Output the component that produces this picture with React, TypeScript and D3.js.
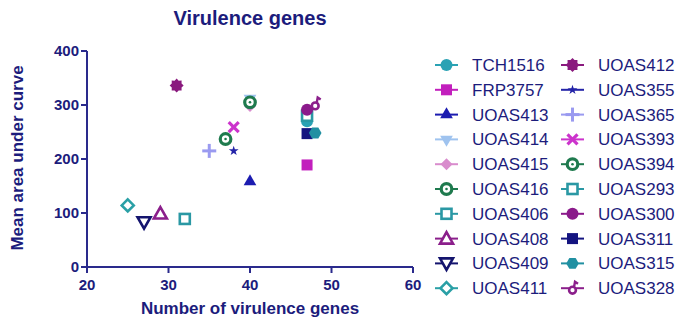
import React from "react";
import * as d3 from "d3";

const seriesNames = [
  "TCH1516", "FRP3757", "UOAS413", "UOAS414", "UOAS415", "UOAS416", "UOAS406", "UOAS408", "UOAS409", "UOAS411",
  "UOAS412", "UOAS355", "UOAS365", "UOAS393", "UOAS394", "UOAS293", "UOAS300", "UOAS311", "UOAS315", "UOAS328",
];
const geneCounts = [47, 47, 40, 40, 40, 40, 32, 29, 27, 25, 31, 38, 35, 38, 37, 47, 47, 47, 48, 48];
const meanAUC = [270, 189, 158, 312, 298, 305, 89, 99, 83, 114, 336, 215, 215, 259, 237, 280, 291, 247, 248, 302];
const seriesColors = [
  "#2aa2b4", "#c21fbd", "#1c1cb0", "#9fc3ef", "#d98ccd", "#1f7a4e", "#2a98a4", "#8b1f8b", "#14146e", "#2aa0a6",
  "#8a1a7e", "#2424a8", "#9a9af0", "#cc33cc", "#1f7a4e", "#2a98a4", "#8b1a8b", "#141480", "#2190a2", "#8b1f8b",
];
const seriesShapes = [
  "circle", "square", "triangle", "triangleDown", "diamond", "ring", "openSquare", "openTriangle", "openTriangleDown", "openDiamond",
  "gear", "star", "plus", "cross", "ring", "openSquare", "circle", "square", "hexagon", "male",
];
const xTicks = [20, 30, 40, 50, 60];
const yTicks = [0, 100, 200, 300, 400];

const NAVY = "#1c1c7c";
const AXIS = "#2a2a8c";
const FONT = "'Liberation Sans', Arial, sans-serif";

function Marker({ shape, color, x, y }: { shape: string; color: string; x: number; y: number }) {
  const t = `translate(${x},${y})`;
  const sym = (type: any, size: number) => d3.symbol().type(type).size(size)() as string;
  switch (shape) {
    case "circle":
      return <circle cx={x} cy={y} r={6} fill={color} />;
    case "square":
      return <rect x={x - 5.5} y={y - 5.5} width={11} height={11} fill={color} />;
    case "triangle":
      return <path transform={t} d={sym(d3.symbolTriangle, 70)} fill={color} />;
    case "triangleDown":
      return <path transform={t + " rotate(180)"} d={sym(d3.symbolTriangle, 70)} fill={color} />;
    case "diamond":
      return <path transform={t} d="M0,-6L6,0L0,6L-6,0Z" fill={color} />;
    case "ring":
      return (
        <g>
          <circle cx={x} cy={y} r={5.3} fill="white" stroke={color} strokeWidth={3.2} />
          <circle cx={x} cy={y} r={1.3} fill={color} />
        </g>
      );
    case "openSquare":
      return <rect x={x - 5} y={y - 5} width={10} height={10} fill="white" stroke={color} strokeWidth={2.6} />;
    case "openTriangle":
      return <path transform={t} d="M0,-6.5L6.5,5L-6.5,5Z" fill="white" stroke={color} strokeWidth={2.6} />;
    case "openTriangleDown":
      return <path transform={t} d="M0,6.5L6.5,-5L-6.5,-5Z" fill="white" stroke={color} strokeWidth={2.6} />;
    case "openDiamond":
      return <path transform={t} d="M0,-6L6,0L0,6L-6,0Z" fill="white" stroke={color} strokeWidth={2.6} />;
    case "gear": {
      const pts: [number, number][] = [];
      for (let i = 0; i < 16; i++) {
        const a = (i * Math.PI) / 8;
        const r = i % 2 === 0 ? 7 : 5.3;
        pts.push([Math.cos(a) * r, Math.sin(a) * r]);
      }
      return <path transform={t} d={d3.line()(pts) + "Z"} fill={color} />;
    }
    case "star":
      return <path transform={t} d={sym(d3.symbolStar, 30)} fill={color} />;
    case "plus":
      return (
        <g transform={t} stroke={color} strokeWidth={3}>
          <line x1={-7} y1={0} x2={7} y2={0} />
          <line x1={0} y1={-7} x2={0} y2={7} />
        </g>
      );
    case "cross":
      return (
        <g transform={t} stroke={color} strokeWidth={3.2}>
          <line x1={-5} y1={-5} x2={5} y2={5} />
          <line x1={-5} y1={5} x2={5} y2={-5} />
        </g>
      );
    case "hexagon": {
      const pts: [number, number][] = [];
      for (let i = 0; i < 6; i++) {
        const a = (i * Math.PI) / 3;
        pts.push([Math.cos(a) * 6.3, Math.sin(a) * 6.3]);
      }
      return <path transform={t} d={d3.line()(pts) + "Z"} fill={color} />;
    }
    case "male":
      return (
        <g transform={t}>
          <circle cx={0} cy={2} r={3.4} fill="white" stroke={color} strokeWidth={2.6} />
          <path d="M1.5,-1L2.5,-6.5L5.5,-4.5" fill="none" stroke={color} strokeWidth={2.4} />
        </g>
      );
    default:
      return null;
  }
}

export default function App() {
  const width = 690;
  const height = 325;
  const x = d3.scaleLinear().domain([20, 60]).range([87, 413]);
  const y = d3.scaleLinear().domain([0, 400]).range([267, 51]);

  const legendRow = (i: number) => 65 + (i % 10) * 24.8;
  const legendX = (i: number) => (i < 10 ? 435 : 561);

  return (
    <svg width={width} height={height} style={{ position: "absolute", left: 0, top: 0 }} fontFamily={FONT}>
      <rect width={width} height={height} fill="white" />
      <text x={250} y={25} textAnchor="middle" fontSize={20} fontWeight="bold" fill={NAVY}>
        Virulence genes
      </text>

      {/* Y axis */}
      <line x1={x(20)} y1={y(0)} x2={x(20)} y2={y(400)} stroke={AXIS} strokeWidth={2} />
      {yTicks.map((v) => (
        <g key={"yt" + v}>
          <line x1={x(20) - 6} y1={y(v)} x2={x(20)} y2={y(v)} stroke={AXIS} strokeWidth={2} />
          <text x={x(20) - 8} y={y(v) + 5} textAnchor="end" fontSize={15} fontWeight="bold" fill={NAVY}>
            {v}
          </text>
        </g>
      ))}
      {/* X axis */}
      <line x1={x(20)} y1={y(0)} x2={x(60)} y2={y(0)} stroke={AXIS} strokeWidth={2} />
      {xTicks.map((v) => (
        <g key={"xt" + v}>
          <line x1={x(v)} y1={y(0)} x2={x(v)} y2={y(0) + 6} stroke={AXIS} strokeWidth={2} />
          <text x={x(v)} y={y(0) + 23} textAnchor="middle" fontSize={15} fontWeight="bold" fill={NAVY}>
            {v}
          </text>
        </g>
      ))}
      <text x={250} y={314} textAnchor="middle" fontSize={17} fontWeight="bold" fill={NAVY}>
        Number of virulence genes
      </text>
      <text
        transform={`translate(23,158) rotate(-90)`}
        textAnchor="middle"
        fontSize={17}
        fontWeight="bold"
        fill={NAVY}
      >
        Mean area under curve
      </text>

      {/* Points */}
      {seriesNames.map((name, i) => (
        <Marker key={"p" + name} shape={seriesShapes[i]} color={seriesColors[i]} x={x(geneCounts[i])} y={y(meanAUC[i])} />
      ))}

      {/* Legend */}
      {seriesNames.map((name, i) => {
        const lx = legendX(i);
        const ly = legendRow(i);
        return (
          <g key={"l" + name}>
            <line x1={lx} y1={ly} x2={lx + 23} y2={ly} stroke={seriesColors[i]} strokeWidth={2} />
            <Marker shape={seriesShapes[i]} color={seriesColors[i]} x={lx + 11.5} y={ly} />
            <text x={lx + 37} y={ly + 6} fontSize={17} fill={NAVY}>
              {name}
            </text>
          </g>
        );
      })}
    </svg>
  );
}
